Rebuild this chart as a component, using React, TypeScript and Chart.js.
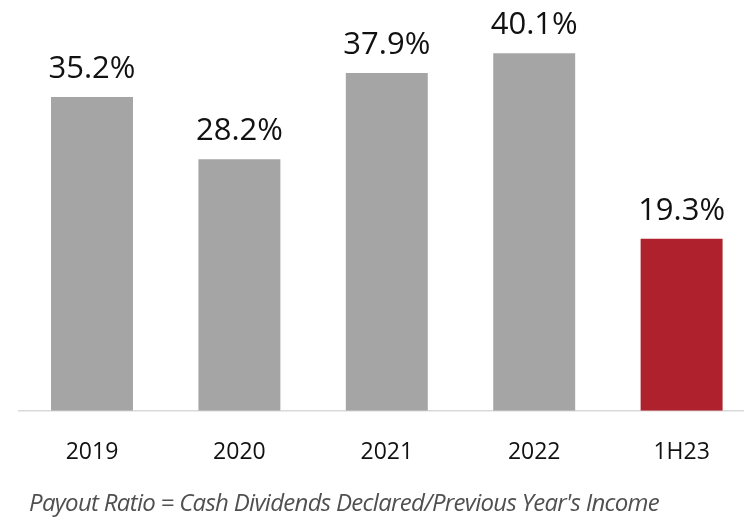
import React, { useEffect, useRef } from "react";
import { Chart, registerables } from "chart.js";

Chart.register(...registerables);

const categories = ["2019", "2020", "2021", "2022", "1H23"];
const payoutRatio = [35.2, 28.2, 37.9, 40.1, 19.3];
const barColors = ["#A5A5A5", "#A5A5A5", "#A5A5A5", "#A5A5A5", "#AF212C"];
const footnote = "Payout Ratio = Cash Dividends Declared/Previous Year's Income";

const valueLabels = {
  id: "valueLabels",
  afterDatasetsDraw(chart: any) {
    const ctx = chart.ctx;
    const meta = chart.getDatasetMeta(0);
    ctx.save();
    ctx.font = "31px 'Open Sans'";
    ctx.fillStyle = "#111111";
    ctx.textAlign = "center";
    ctx.textBaseline = "alphabetic";
    meta.data.forEach((bar: any, i: number) => {
      const v = chart.data.datasets[0].data[i] as number;
      ctx.fillText(v.toFixed(1) + "%", bar.x, bar.y - 19);
    });
    ctx.restore();
  },
};

export default function App() {
  const ref = useRef<HTMLCanvasElement | null>(null);
  useEffect(() => {
    if (!ref.current) return;
    const chart = new Chart(ref.current, {
      type: "bar",
      data: {
        labels: categories,
        datasets: [
          {
            data: payoutRatio,
            backgroundColor: barColors,
            categoryPercentage: 1,
            barPercentage: 0.556,
          },
        ],
      },
      options: {
        responsive: false,
        animation: false,
        layout: { padding: { left: 18.3, right: 4.7, top: 9.6, bottom: 0 } },
        plugins: { legend: { display: false }, tooltip: { enabled: false } },
        scales: {
          x: {
            grid: { display: false, drawTicks: false },
            border: { color: "#D9D9D9", width: 1.5 },
            ticks: {
              color: "#111111",
              padding: 27.6,
              font: { family: "'Open Sans'", size: 23 },
            },
            afterFit(scale: any) {
              scale.height = 106.3;
            },
          },
          y: { display: false, min: 0, max: 45 },
        },
      },
      plugins: [valueLabels],
    });
    return () => chart.destroy();
  }, []);
  return (
    <div
      style={{
        position: "fixed",
        left: 0,
        top: 0,
        width: 744,
        height: 517,
        overflow: "hidden",
        background: "#ffffff",
      }}
    >
      <canvas ref={ref} width={760} height={517} style={{ position: "absolute", left: 0, top: 0 }} />
      <div
        style={{
          position: "absolute",
          left: 29,
          top: 489.7,
          fontFamily: "'Open Sans'",
          fontStyle: "italic",
          fontSize: 24,
          lineHeight: "24px",
          letterSpacing: "-0.7px",
          color: "#505050",
          whiteSpace: "nowrap",
        }}
      >
        {footnote}
      </div>
    </div>
  );
}
